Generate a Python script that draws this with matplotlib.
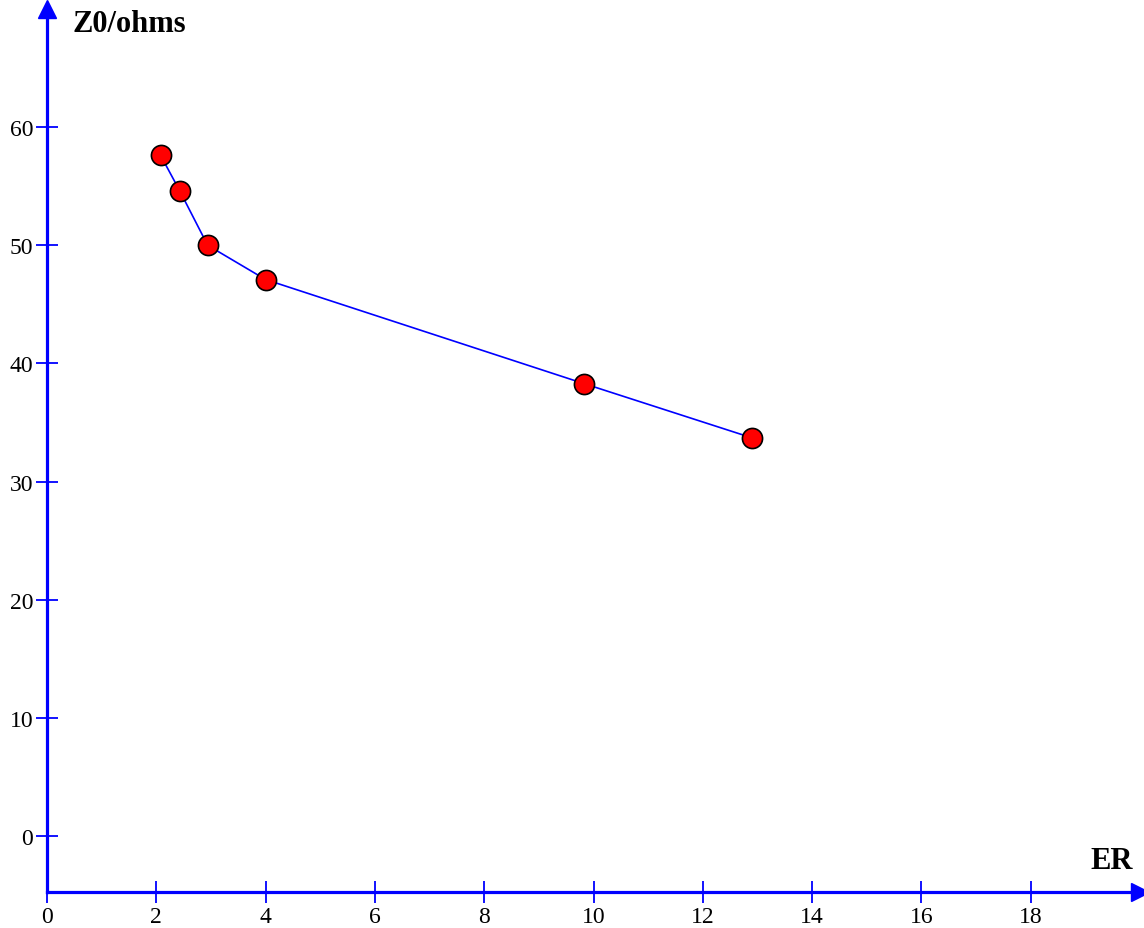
import matplotlib
matplotlib.use("Agg")
import matplotlib.pyplot as plt

# data
er = [2.08, 2.43, 2.94, 4.0, 9.82, 12.9]
z0 = [57.6, 54.6, 50.0, 47.1, 38.3, 33.7]
x_ticks = [0, 2, 4, 6, 8, 10, 12, 14, 16, 18]
y_ticks = [0, 10, 20, 30, 40, 50, 60]

plt.rcParams['font.family'] = ['Liberation Serif', 'DejaVu Serif']

fig = plt.figure(figsize=(11.44, 9.29), dpi=100)
ax = fig.add_axes([47 / 1144, 36 / 929, 1093 / 1144, 883 / 929])
ax.set_xlim(0, 20)
ax.set_ylim(-4.74, 70)

# axes drawn as blue arrows
for side in ['top', 'right']:
    ax.spines[side].set_visible(False)
for side in ['left', 'bottom']:
    ax.spines[side].set_color('blue')
    ax.spines[side].set_linewidth(2.3)
ax.plot(1, 0, '>', color='blue', markersize=13, transform=ax.transAxes,
        clip_on=False)
ax.plot(0, 1, '^', color='blue', markersize=13, transform=ax.transAxes,
        clip_on=False)

ax.set_xticks(x_ticks)
ax.set_yticks(y_ticks)
ax.tick_params(direction='inout', length=16, width=1.3, color='blue',
               labelsize=17, pad=2)

ax.plot(er, z0, color='blue', linewidth=1.2, marker='o', markersize=14.5,
        markerfacecolor='red', markeredgecolor='black', markeredgewidth=1.2)

fig.text(72 / 1144, 1 - 25 / 929, 'Z0/ohms', fontsize=22, fontweight='bold',
         va='center', ha='left')
fig.text(1090 / 1144, 1 - 862 / 929, 'ER', fontsize=22, fontweight='bold',
         va='center', ha='left')

fig.savefig('out.png', dpi=100)
